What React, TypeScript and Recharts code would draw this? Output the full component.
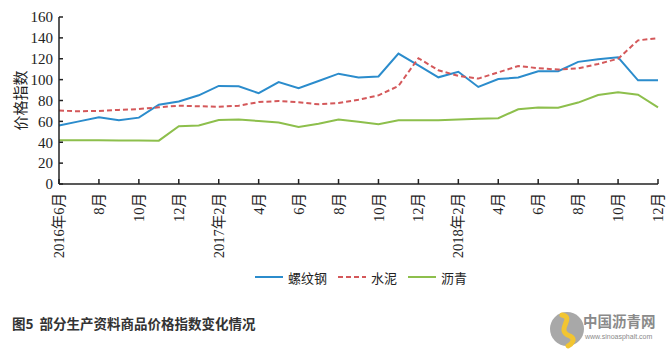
import { CartesianGrid, Line, LineChart, XAxis, YAxis } from 'recharts';

const months = [
  '2016年6月', '7月', '8月', '9月', '10月', '11月', '12月',
  '2017年1月', '2017年2月', '3月', '4月', '5月', '6月', '7月', '8月', '9月', '10月', '11月', '12月',
  '2018年1月', '2018年2月', '3月', '4月', '5月', '6月', '7月', '8月', '9月', '10月', '11月', '12月',
];

const steel = [56, 60, 64, 61, 63.6, 76, 79, 85, 94, 93.6, 87, 97.7, 91.7, 98.7, 105.7, 102, 103, 125, 113.7, 102.2, 107.5, 93, 100.6, 102, 108, 108, 117, 119.5, 121.4, 99.3, 99.3];
const cement = [70.3, 69.7, 70, 71, 71.8, 73.5, 75, 74.5, 74, 75, 78.5, 79.5, 78.3, 76.3, 77.6, 80.8, 84.9, 93.9, 120.5, 109, 103.6, 101, 107, 113, 111, 109.6, 110.8, 115, 120, 137.6, 139.8];
const asphalt = [41.8, 41.8, 41.8, 41.7, 41.6, 41.5, 55.3, 56, 61.3, 61.7, 60.3, 59, 54.6, 57.8, 61.7, 59.7, 57.2, 61, 61, 61, 61.8, 62.6, 63, 71.6, 73.2, 73, 78, 85.3, 87.8, 85.6, 73.5];

const yTicks = [0, 20, 40, 60, 80, 100, 120, 140, 160];

const colors = { steel: '#2b8ccc', cement: '#d4585a', asphalt: '#8dbf4c' };
const serif = '"Liberation Serif", "Noto Sans CJK SC", serif';

const data = months.map((m, i) => ({ month: m, steel: steel[i], cement: cement[i], asphalt: asphalt[i] }));

function XTick({ x, y, payload }: any) {
  return (
    <g>
      <line x1={x} x2={x} y1={y - 9} y2={y - 14} stroke="#222" strokeWidth={1.5} />
      <text
        x={x}
        y={y}
        transform={`rotate(-90, ${x}, ${y})`}
        textAnchor="end"
        dy="0.35em"
        fontSize={14.5}
        fill="#222"
        fontFamily={serif}
      >
        {payload.value}
      </text>
    </g>
  );
}

function YTick({ x, y, payload }: any) {
  return (
    <g>
      <line x1={x + 6} x2={x + 10} y1={y} y2={y} stroke="#222" strokeWidth={1.5} />
      <text x={x} y={y} textAnchor="end" dy="0.35em" fontSize={15} fill="#222" fontFamily={serif}>
        {payload.value}
      </text>
    </g>
  );
}

const legendItems = [
  { name: '螺纹钢', color: colors.steel, dash: undefined },
  { name: '水泥', color: colors.cement, dash: '5 3' },
  { name: '沥青', color: colors.asphalt, dash: undefined },
];

export default function App() {
  return (
    <div style={{ position: 'absolute', left: 0, top: 0, width: 667, height: 353, background: '#fff' }}>
      <LineChart width={667} height={268} data={data} margin={{ top: 17, right: 9, left: 19, bottom: 0 }}>
        <CartesianGrid stroke="none" />
        <XAxis
          dataKey="month"
          interval={1}
          height={84}
          tickSize={0}
          tickMargin={9}
          tick={<XTick />}
          axisLine={{ stroke: '#222', strokeWidth: 1.5 }}
          tickLine={false}
        />
        <YAxis
          width={40}
          domain={[0, 160]}
          ticks={yTicks}
          interval={0}
          tickSize={0}
          tickMargin={6}
          tick={<YTick />}
          axisLine={{ stroke: '#222', strokeWidth: 1.5 }}
          tickLine={false}
          label={{
            value: '价格指数',
            angle: -90,
            position: 'insideLeft',
            offset: 2,
            style: { fontSize: 15, fill: '#222', fontFamily: serif, textAnchor: 'middle' },
          }}
        />
        <Line dataKey="steel" name="螺纹钢" stroke={colors.steel} strokeWidth={2} dot={false} isAnimationActive={false} />
        <Line dataKey="cement" name="水泥" stroke={colors.cement} strokeWidth={2} strokeDasharray="5 3" dot={false} isAnimationActive={false} />
        <Line dataKey="asphalt" name="沥青" stroke={colors.asphalt} strokeWidth={2} dot={false} isAnimationActive={false} />
      </LineChart>
      <div style={{ position: 'absolute', top: 267, left: 254, display: 'flex' }}>
        {legendItems.map((it) => (
          <div key={it.name} style={{ display: 'flex', alignItems: 'center', marginRight: 10 }}>
            <svg width={30} height={20}>
              <line x1={1} x2={29} y1={10} y2={10} stroke={it.color} strokeWidth={2} strokeDasharray={it.dash} />
            </svg>
            <span style={{ fontFamily: serif, fontSize: 13, color: '#222', marginLeft: 4 }}>{it.name}</span>
          </div>
        ))}
      </div>
      <div style={{ position: 'absolute', top: 313, left: 12, fontFamily: '"Noto Sans CJK SC", sans-serif', fontSize: 13.5, fontWeight: 700, color: '#333', whiteSpace: 'pre' }}>
        {'图5  部分生产资料商品价格指数变化情况'}
      </div>
      <svg style={{ position: 'absolute', left: 548, top: 308 }} width={115} height={42}>
        <circle cx={19} cy={21} r={17} fill="#a8a8a8" />
        <path d="M14 7 C28 10, 6 22, 22 28 C28 31, 24 36, 20 38" stroke="#f2c531" strokeWidth={5} fill="none" strokeLinecap="round" />
        <text x={35} y={19} fontSize={14.5} fontWeight={700} fill="#8a8a8a" fontFamily='"Noto Sans CJK SC", sans-serif'>中国沥青网</text>
        <text x={37} y={31} fontSize={7} fill="#8a8a8a" fontFamily='"Liberation Sans", sans-serif'>www.sinoasphalt.com</text>
      </svg>
    </div>
  );
}
